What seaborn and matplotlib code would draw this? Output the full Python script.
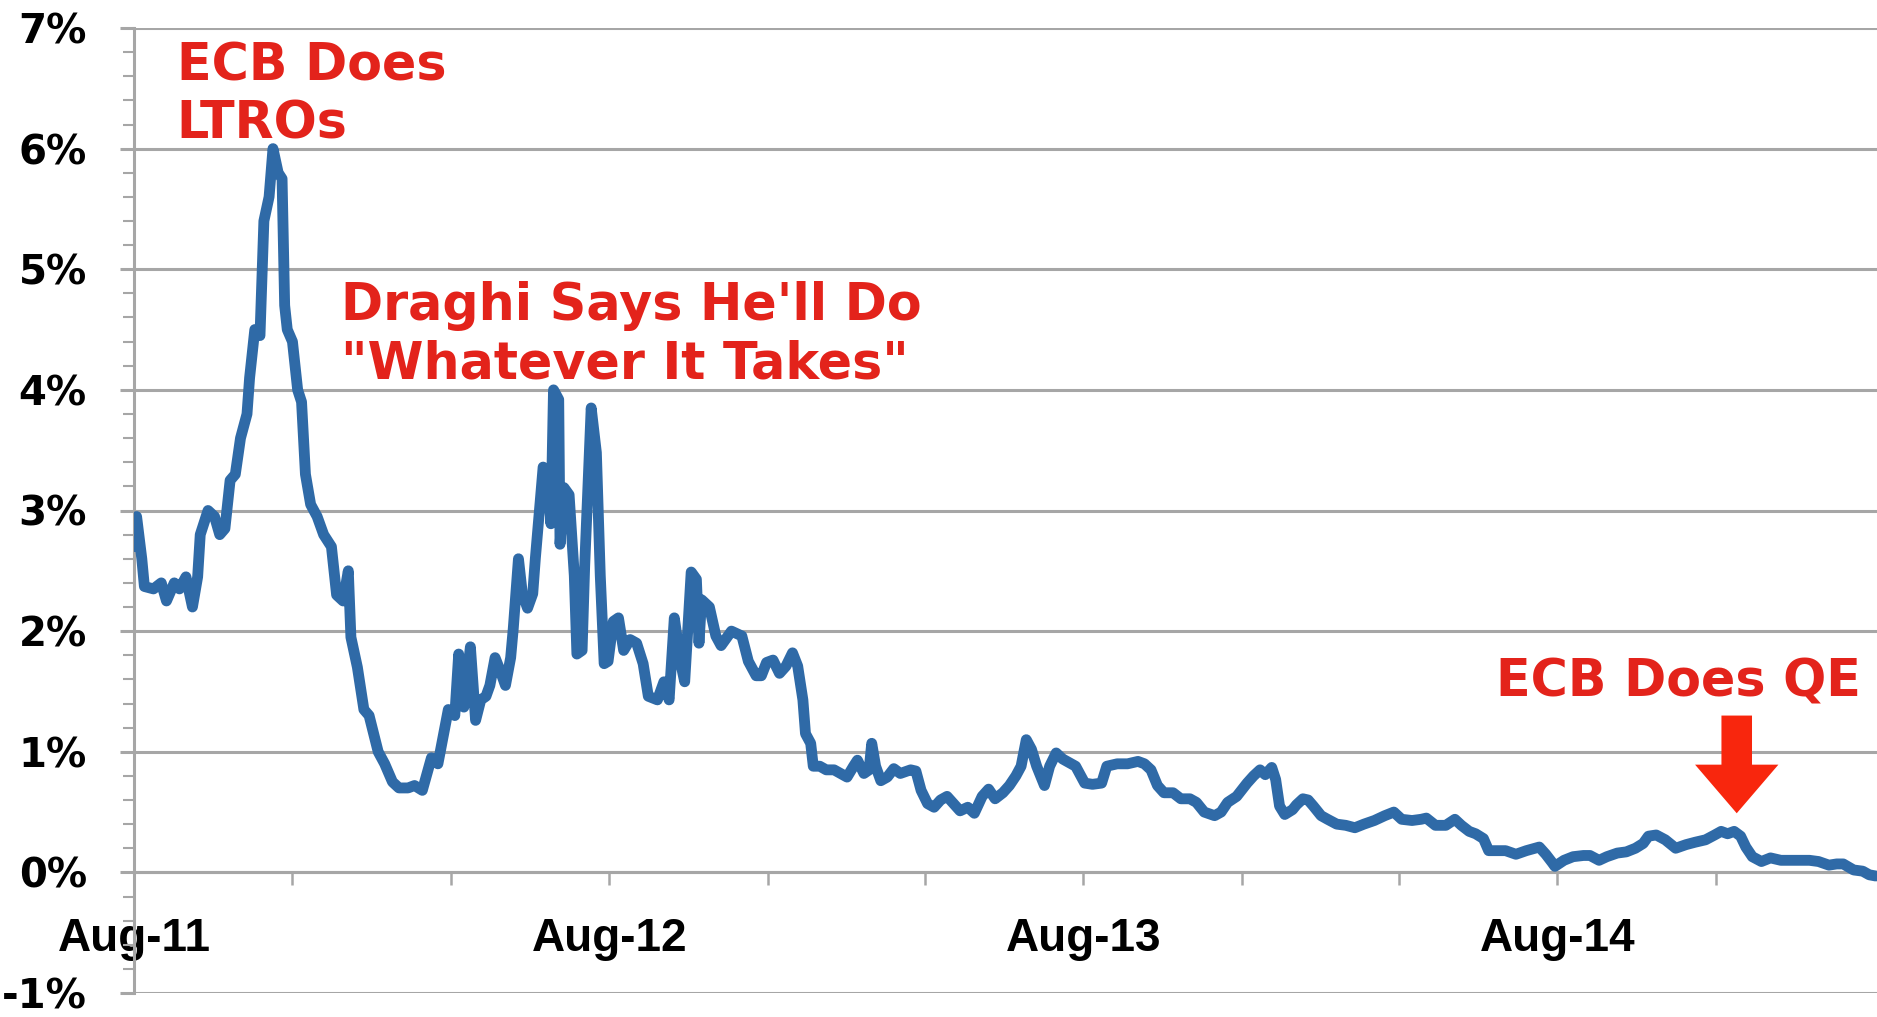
import matplotlib
matplotlib.use("Agg")
import matplotlib.pyplot as plt
import pandas as pd
import seaborn as sns
from matplotlib.ticker import MultipleLocator

# ---------------- data (spread, %) ----------------
dates_2011 = ["2011-08-01", "2011-08-03", "2011-08-07", "2011-08-09", "2011-08-16", "2011-08-22",
              "2011-08-26", "2011-09-01", "2011-09-05", "2011-09-10", "2011-09-15", "2011-09-19",
              "2011-09-21", "2011-09-27", "2011-10-02", "2011-10-06", "2011-10-10", "2011-10-14",
              "2011-10-18", "2011-10-22", "2011-10-27", "2011-10-29", "2011-11-02", "2011-11-06",
              "2011-11-09", "2011-11-13", "2011-11-16", "2011-11-20", "2011-11-23", "2011-11-25",
              "2011-11-27", "2011-12-01", "2011-12-05", "2011-12-08", "2011-12-11", "2011-12-15",
              "2011-12-20", "2011-12-25", "2011-12-31"]
values_2011 = [2.70, 2.95, 2.60, 2.37, 2.35, 2.40,
               2.25, 2.40, 2.35, 2.45, 2.20, 2.45,
               2.80, 3.00, 2.95, 2.80, 2.85, 3.25,
               3.30, 3.60, 3.80, 4.10, 4.50, 4.45,
               5.40, 5.60, 6.00, 5.80, 5.75, 4.70,
               4.50, 4.40, 4.00, 3.90, 3.30, 3.05,
               2.95, 2.80, 2.70]

dates_2012 = ["2012-01-04", "2012-01-09", "2012-01-13", "2012-01-15", "2012-01-20", "2012-01-25",
              "2012-01-29", "2012-02-05", "2012-02-10", "2012-02-16", "2012-02-21", "2012-02-28",
              "2012-03-04", "2012-03-10", "2012-03-17", "2012-03-22", "2012-03-30", "2012-04-04",
              "2012-04-07", "2012-04-11", "2012-04-16", "2012-04-20", "2012-04-24", "2012-04-28",
              "2012-05-01", "2012-05-05", "2012-05-09", "2012-05-13", "2012-05-17", "2012-05-19",
              "2012-05-23", "2012-05-26", "2012-05-30", "2012-06-03", "2012-06-05", "2012-06-08",
              "2012-06-11", "2012-06-14", "2012-06-17", "2012-06-19", "2012-06-23", "2012-06-24",
              "2012-06-27", "2012-07-01", "2012-07-05", "2012-07-07", "2012-07-11", "2012-07-13",
              "2012-07-18", "2012-07-22", "2012-07-25", "2012-07-28", "2012-07-31", "2012-08-04",
              "2012-08-08", "2012-08-12", "2012-08-17", "2012-08-22", "2012-08-27", "2012-08-31",
              "2012-09-07", "2012-09-12", "2012-09-16", "2012-09-20", "2012-09-25", "2012-09-28",
              "2012-10-03", "2012-10-07", "2012-10-09", "2012-10-11", "2012-10-17", "2012-10-22",
              "2012-10-26", "2012-11-03", "2012-11-11", "2012-11-16", "2012-11-22", "2012-11-26",
              "2012-11-30", "2012-12-05", "2012-12-10", "2012-12-15", "2012-12-20", "2012-12-24",
              "2012-12-28", "2012-12-30"]
values_2012 = [2.30, 2.25, 2.50, 1.95, 1.70, 1.35,
               1.30, 1.00, 0.90, 0.75, 0.70, 0.70,
               0.72, 0.68, 0.95, 0.90, 1.35, 1.30,
               1.81, 1.37, 1.87, 1.26, 1.43, 1.46,
               1.55, 1.78, 1.67, 1.55, 1.78, 2.02,
               2.60, 2.31, 2.19, 2.31, 2.60, 2.98,
               3.36, 3.33, 2.89, 4.00, 3.92, 2.72,
               3.19, 3.13, 2.46, 1.81, 1.84, 2.54,
               3.85, 3.48, 2.46, 1.73, 1.75, 2.08,
               2.11, 1.84, 1.93, 1.90, 1.73, 1.46,
               1.43, 1.58, 1.43, 2.11, 1.73, 1.58,
               2.49, 2.43, 1.90, 2.26, 2.20, 1.96,
               1.88, 2.00, 1.96, 1.75, 1.63, 1.63,
               1.74, 1.76, 1.65, 1.71, 1.82, 1.71,
               1.43, 1.15]

dates_2013 = ["2013-01-03", "2013-01-05", "2013-01-10", "2013-01-15", "2013-01-21", "2013-01-26",
              "2013-01-31", "2013-02-05", "2013-02-08", "2013-02-13", "2013-02-17", "2013-02-19",
              "2013-02-22", "2013-02-26", "2013-03-03", "2013-03-08", "2013-03-13", "2013-03-21",
              "2013-03-25", "2013-03-29", "2013-04-03", "2013-04-08", "2013-04-13", "2013-04-18",
              "2013-04-23", "2013-04-28", "2013-05-04", "2013-05-09", "2013-05-15", "2013-05-20",
              "2013-05-25", "2013-05-31", "2013-06-05", "2013-06-10", "2013-06-14", "2013-06-18",
              "2013-06-22", "2013-06-26", "2013-07-02", "2013-07-06", "2013-07-11", "2013-07-16",
              "2013-07-21", "2013-07-26", "2013-08-02", "2013-08-08", "2013-08-15", "2013-08-19",
              "2013-08-27", "2013-09-04", "2013-09-12", "2013-09-17", "2013-09-22", "2013-09-27",
              "2013-10-02", "2013-10-09", "2013-10-15", "2013-10-22", "2013-10-27", "2013-11-02",
              "2013-11-10", "2013-11-15", "2013-11-20", "2013-11-27", "2013-12-05", "2013-12-10",
              "2013-12-15", "2013-12-19", "2013-12-24", "2013-12-27", "2013-12-30"]
values_2013 = [1.07, 0.88, 0.88, 0.85, 0.85, 0.82,
               0.79, 0.88, 0.93, 0.82, 0.85, 1.07,
               0.88, 0.76, 0.79, 0.86, 0.82, 0.85,
               0.84, 0.68, 0.57, 0.54, 0.60, 0.63,
               0.57, 0.51, 0.54, 0.49, 0.63, 0.69,
               0.61, 0.66, 0.72, 0.80, 0.88, 1.10,
               1.02, 0.88, 0.72, 0.88, 0.99, 0.94,
               0.91, 0.88, 0.74, 0.73, 0.74, 0.88,
               0.90, 0.90, 0.92, 0.90, 0.85, 0.72,
               0.66, 0.66, 0.61, 0.61, 0.58, 0.50,
               0.47, 0.50, 0.58, 0.63, 0.74, 0.80,
               0.85, 0.81, 0.87, 0.77, 0.55]

dates_2014 = ["2014-01-03", "2014-01-09", "2014-01-12", "2014-01-17", "2014-01-21", "2014-01-25",
              "2014-01-31", "2014-02-05", "2014-02-12", "2014-02-19", "2014-02-26", "2014-03-05",
              "2014-03-13", "2014-03-21", "2014-03-28", "2014-04-03", "2014-04-11", "2014-04-18",
              "2014-04-22", "2014-04-29", "2014-05-07", "2014-05-14", "2014-05-19", "2014-05-25",
              "2014-05-30", "2014-06-05", "2014-06-09", "2014-06-15", "2014-06-22", "2014-06-30",
              "2014-07-08", "2014-07-18", "2014-07-23", "2014-07-28", "2014-07-30", "2014-08-06",
              "2014-08-13", "2014-08-21", "2014-08-26", "2014-09-02", "2014-09-08", "2014-09-16",
              "2014-09-23", "2014-09-30", "2014-10-06", "2014-10-10", "2014-10-16", "2014-10-23",
              "2014-10-31", "2014-11-08", "2014-11-15", "2014-11-23", "2014-11-30", "2014-12-05",
              "2014-12-10", "2014-12-15", "2014-12-20", "2014-12-24", "2014-12-29"]
values_2014 = [0.48, 0.52, 0.56, 0.61, 0.60, 0.55,
               0.47, 0.44, 0.40, 0.39, 0.37, 0.40,
               0.43, 0.47, 0.50, 0.44, 0.43, 0.44,
               0.45, 0.39, 0.39, 0.44, 0.39, 0.34,
               0.32, 0.28, 0.18, 0.18, 0.18, 0.15,
               0.18, 0.21, 0.15, 0.08, 0.05, 0.10,
               0.13, 0.14, 0.14, 0.10, 0.13, 0.16,
               0.17, 0.20, 0.24, 0.30, 0.31, 0.27,
               0.20, 0.23, 0.25, 0.27, 0.31, 0.34,
               0.32, 0.34, 0.30, 0.21, 0.13]

dates_2015 = ["2015-01-05", "2015-01-12", "2015-01-20", "2015-01-28", "2015-02-04", "2015-02-11",
              "2015-02-18", "2015-02-26", "2015-03-04", "2015-03-09", "2015-03-17", "2015-03-24",
              "2015-03-29", "2015-04-03"]
values_2015 = [0.09, 0.12, 0.10, 0.10, 0.10, 0.10,
               0.09, 0.06, 0.07, 0.07, 0.02, 0.01,
               -0.02, -0.03]

y_ticks = [-1, 0, 1, 2, 3, 4, 5, 6, 7]
y_tick_labels = ["-1%", "0%", "1%", "2%", "3%", "4%", "5%", "6%", "7%"]
x_tick_dates = ["2011-08-01", "2012-08-01", "2013-08-01", "2014-08-01"]
x_tick_labels = ["Aug-11", "Aug-12", "Aug-13", "Aug-14"]
x_minor_dates = ["2011-12-01", "2012-04-01", "2012-12-01", "2013-04-01",
                 "2013-12-01", "2014-04-01", "2014-12-01"]
x_range = ["2011-08-01", "2015-04-04"]

annotations = [
    ("ECB Does\nLTROs", "2011-09-03", 6.89, "left"),
    ("Draghi Says He'll Do\n\"Whatever It Takes\"", "2012-01-07", 4.90, "left"),
    ("ECB Does QE", "2014-11-02", 1.78, "center"),
]
qe_arrow_date = "2014-12-17"
qe_arrow_tail = 1.30
qe_arrow_tip = 0.49

# ---------------- style ----------------
LINE = "#2f6aa7"
GRID = "#a6a6a6"
RED = "#e3231b"
ARROW = "#f8260d"

sns.set_style("white")
plt.rcParams["font.family"] = ["DejaVu Sans"]

dates = dates_2011 + dates_2012 + dates_2013 + dates_2014 + dates_2015
values = values_2011 + values_2012 + values_2013 + values_2014 + values_2015
assert len(dates) == len(values)
df = pd.DataFrame({"date": pd.to_datetime(dates), "spread": values})

W, H = 1877, 1017
fig = plt.figure(figsize=(W / 100, H / 100), dpi=100)
fig.patch.set_facecolor("white")
ax = fig.add_axes([134 / W, 1 - 993 / H, 1 - 134 / W, (993 - 28) / H])

sns.lineplot(data=df, x="date", y="spread", ax=ax, color=LINE, linewidth=7.8,
             estimator=None, solid_joinstyle="round", solid_capstyle="round", zorder=3)

ax.set_ylim(-1, 7)
ax.set_xlim(pd.Timestamp(x_range[0]), pd.Timestamp(x_range[1]))
ax.set_xlabel("")
ax.set_ylabel("")

# y axis
ax.set_yticks(y_ticks)
ax.set_yticklabels(y_tick_labels, fontsize=29, fontweight="bold", color="black",
                   family=["DejaVu Sans"])
ax.yaxis.set_minor_locator(MultipleLocator(0.2))
ax.tick_params(axis="y", which="major", left=True, length=10, width=2.2, color=GRID,
               direction="out", pad=24)
ax.tick_params(axis="y", which="minor", left=True, length=8, width=1.5, color=GRID,
               direction="out")
ax.yaxis.grid(True, which="major", color=GRID, linewidth=2.2)
ax.xaxis.grid(False)
ax.set_axisbelow(True)

# x axis at 0%
ax.spines["bottom"].set_position(("data", 0))
for s in ["top", "right"]:
    ax.spines[s].set_visible(False)
for s in ["left", "bottom"]:
    ax.spines[s].set_color(GRID)
    ax.spines[s].set_linewidth(2.2)
    ax.spines[s].set_zorder(1)

ax.set_xticks(pd.to_datetime(x_tick_dates))
ax.set_xticklabels(x_tick_labels, fontsize=33, fontweight="bold", color="black",
                   family=["Liberation Sans", "DejaVu Sans"])
ax.set_xticks(pd.to_datetime(x_minor_dates), minor=True)
ax.tick_params(axis="x", which="both", bottom=True, length=9, width=1.8, color=GRID,
               direction="out")
ax.tick_params(axis="x", which="major", pad=23)

# annotations
for text, d, y, ha in annotations:
    ax.text(pd.Timestamp(d), y, text, color=RED, fontsize=36.5, fontweight="bold",
            ha=ha, va="top", linespacing=1.2, zorder=4)

ax.annotate("", xy=(pd.Timestamp(qe_arrow_date), qe_arrow_tip),
            xytext=(pd.Timestamp(qe_arrow_date), qe_arrow_tail),
            arrowprops=dict(arrowstyle="simple,head_length=35,head_width=60,tail_width=22",
                            mutation_scale=1, color=ARROW, shrinkA=0, shrinkB=0, lw=0),
            zorder=4)

fig.savefig("out.png", dpi=100, facecolor="white")
